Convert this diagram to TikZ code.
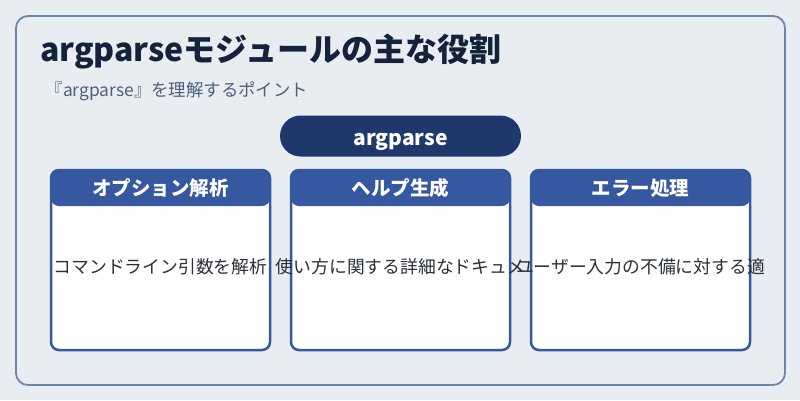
\documentclass[tikz,border=0pt]{standalone}
\usepackage{fontspec}
\setmainfont{Noto Sans CJK JP}
\usepackage{xcolor}
\usetikzlibrary{positioning}
\definecolor{bgclr}{HTML}{E8EDF2}
\definecolor{edgeclr}{HTML}{6E84AE}
\definecolor{navyclr}{HTML}{1E386B}
\definecolor{headclr}{HTML}{3558A0}
\definecolor{titleclr}{HTML}{15233A}
\definecolor{subclr}{HTML}{4D5F7D}
\definecolor{textclr}{HTML}{2A2F3A}
\tikzset{
  panel/.style={draw=edgeclr,line width=1.8pt,fill=bgclr,rounded corners=12pt,
                minimum width=769pt,minimum height=369pt,inner sep=0pt},
  pill/.style={fill=navyclr,text=white,rounded corners=20.5pt,inner sep=0pt,
               minimum width=241pt,minimum height=41pt,text height=22pt,text depth=3pt,
               font=\fontsize{21}{24}\selectfont\bfseries},
  card/.style={draw=headclr,line width=2.5pt,fill=white,rounded corners=8pt,
               minimum width=219pt,minimum height=180pt,inner sep=0pt,outer sep=0pt,
               path picture={\fill[headclr] (path picture bounding box.north west)
                 rectangle ([yshift=-36pt]path picture bounding box.north east);}},
  cardhead/.style={text=white,inner sep=0pt,font=\fontsize{19.5}{22}\selectfont\bfseries},
  cardtext/.style={text=textclr,inner sep=0pt,font=\fontsize{17.8}{20}\selectfont},
}
\begin{document}
\begin{tikzpicture}[x=1pt,y=-1pt,node distance=21pt]
\fill[bgclr] (0,0) rectangle (800,400);
\useasboundingbox (0,0) rectangle (800,400);
\node[panel] (panel) at (400.5,200.5) {};

\node[anchor=base west,text=titleclr,inner sep=0pt,
      font=\fontsize{32}{36}\selectfont\bfseries] (title) at (40,61)
      {argparseモジュールの主な役割};
\node[anchor=base west,text=subclr,inner sep=0pt,
      font=\fontsize{17.4}{20}\selectfont] (sub) at (45.5,96)
      {『argparse』を理解するポイント};

\node[pill] (core) at (400.5,136) {argparse};

\node[card] (opt) at (160.5,260) {};
\node[card, right=of opt] (help) {};
\node[card, right=of help] (err) {};

\node[cardhead] (opthead) at ([yshift=-18pt]opt.north) {オプション解析};
\node[cardhead] (helphead) at ([yshift=-18pt]help.north) {ヘルプ生成};
\node[cardhead] (errhead) at ([yshift=-18pt]err.north) {エラー処理};

\node[cardtext] (opttext) at ([yshift=-7pt]opt.center) {コマンドライン引数を解析};
\node[cardtext] (helptext) at ([yshift=-7pt]help.center) {使い方に関する詳細なドキュメ};
\node[cardtext] (errtext) at ([yshift=-7pt]err.center) {ユーザー入力の不備に対する適};
\end{tikzpicture}
\end{document}
